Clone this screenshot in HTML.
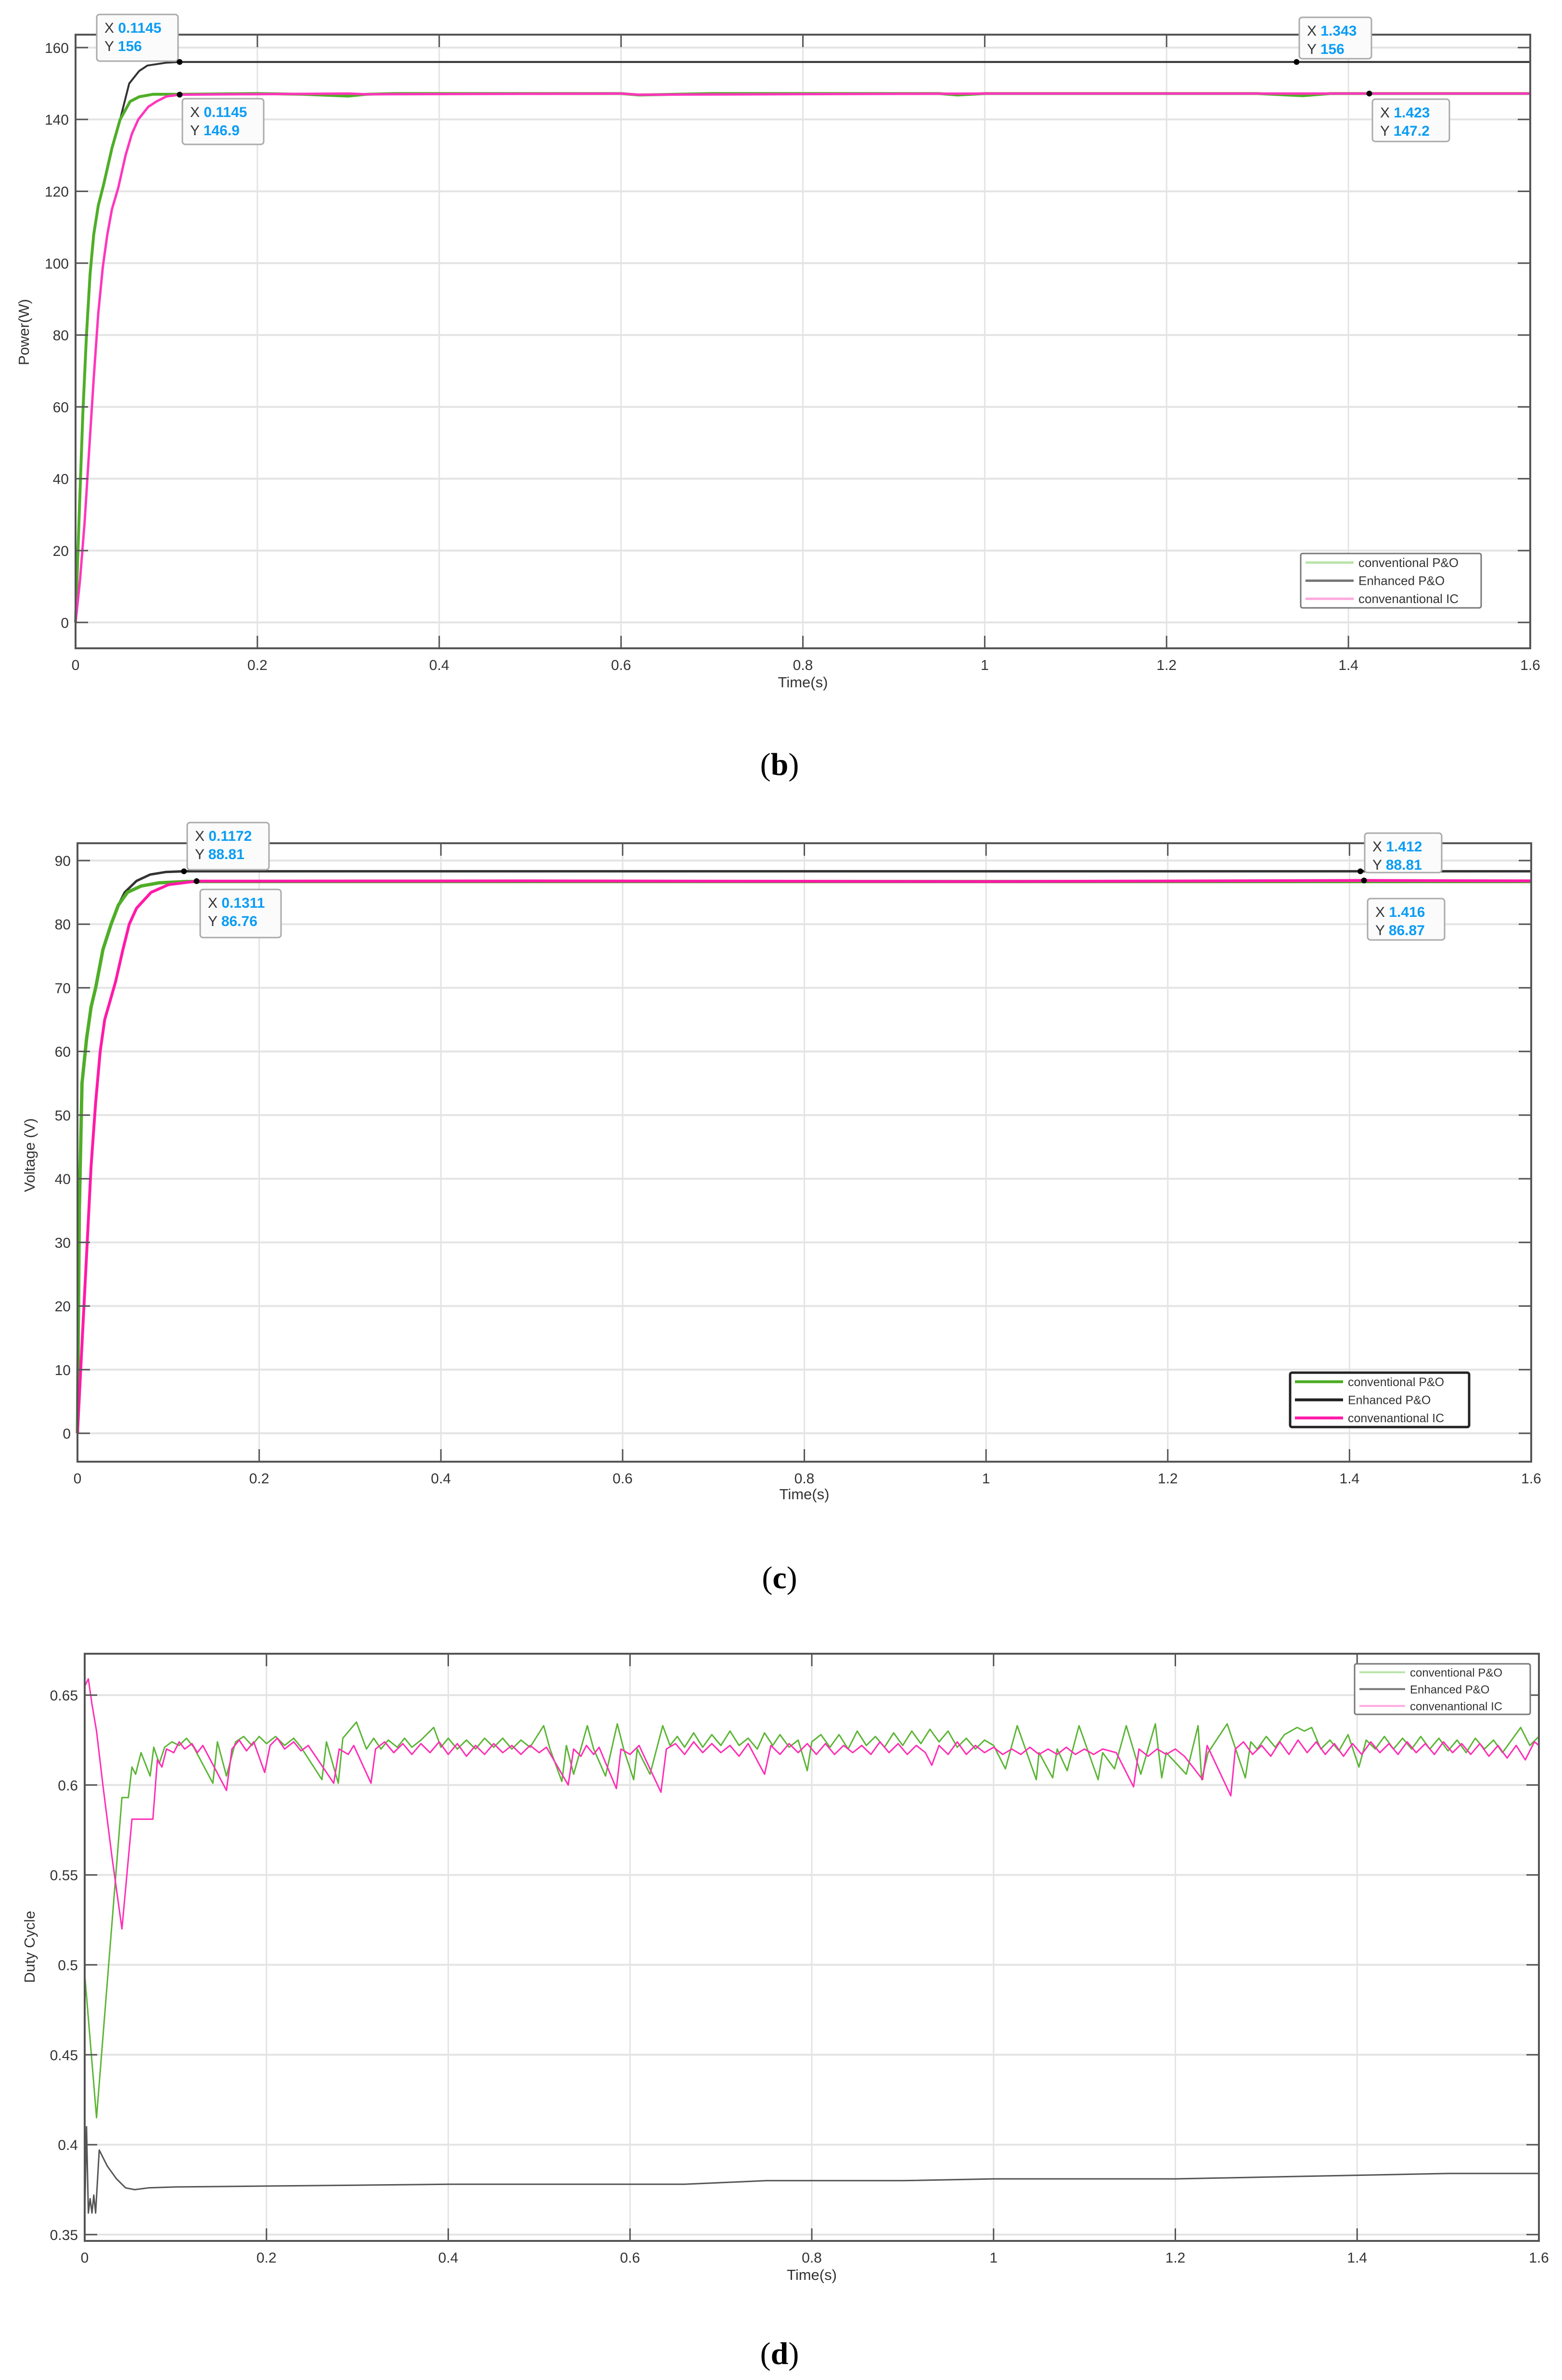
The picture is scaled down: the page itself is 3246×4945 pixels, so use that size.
<!DOCTYPE html>
<html><head><meta charset="utf-8"><title>Power, voltage and duty cycle</title>
<style>
html,body{margin:0;padding:0;background:#fff;}
svg{display:block;font-family:"Liberation Sans",sans-serif;}
</style></head>
<body>
<svg id="fig" xmlns="http://www.w3.org/2000/svg" width="3246" height="4945" viewBox="0 0 3246 4945">
<rect x="0" y="0" width="3246" height="4945" fill="#ffffff"/>
</svg>
<script>
// ---------- DATA ----------
const xTickVals = [0,0.2,0.4,0.6,0.8,1,1.2,1.4,1.6];
const xTickLabels = ["0","0.2","0.4","0.6","0.8","1","1.2","1.4","1.6"];
const seriesNames = ["conventional P&O","Enhanced P&O","convenantional IC"];

// (b) Power
const pwrTicks = [0,20,40,60,80,100,120,140,160];
const pwrGreenT = [0,0.004,0.008,0.012,0.016,0.02,0.025,0.031,0.04,0.049,0.06,0.07,0.085,0.1145,0.2,0.25,0.3,0.32,0.35,0.6,0.62,0.7,0.95,0.97,1.0,1.3,1.35,1.38,1.6];
const pwrGreenV = [0,30,58,80,97,108,116,122,132,140,145,146.3,147,147,147.2,147,146.5,147,147.2,147.2,146.8,147.2,147.2,146.8,147.2,147.2,146.6,147.2,147.2];
const pwrBlackT = [0,0.004,0.008,0.012,0.016,0.02,0.025,0.031,0.04,0.049,0.059,0.07,0.079,0.1,0.1145,1.343,1.6];
const pwrBlackV = [0,30,58,80,97,108,116,122,132,140,150,153.5,155,155.8,156,156,156];
const pwrPinkT = [0,0.005,0.01,0.015,0.02,0.025,0.03,0.035,0.04,0.047,0.055,0.062,0.069,0.08,0.089,0.1,0.1145,0.3,0.32,0.6,0.62,1.0,1.423,1.6];
const pwrPinkV = [0,12,28,48,68,86,99,108,115,121,130,136,140,143.5,145,146.4,146.9,147.2,147,147.2,146.9,147.2,147.2,147.2];

// (c) Voltage
const volTicks = [0,10,20,30,40,50,60,70,80,90];
const volGreenT = [0,0.002,0.005,0.01,0.015,0.02,0.028,0.037,0.045,0.055,0.07,0.09,0.12,0.5,1.6];
const volGreenV = [0,35,55,62,67,70,76,80,83,85,86,86.5,86.7,86.7,86.7];
const volBlackT = [0,0.002,0.005,0.01,0.015,0.02,0.028,0.037,0.045,0.052,0.065,0.08,0.097,0.1172,1.412,1.6];
const volBlackV = [0,35,55,62,67,70,76,80,83,85,86.8,87.8,88.2,88.31,88.31,88.31];
const volPinkT = [0,0.005,0.01,0.015,0.02,0.025,0.03,0.036,0.042,0.05,0.057,0.065,0.081,0.1,0.1311,0.5,1.0,1.416,1.6];
const volPinkV = [0,14,28,42,52,60,65,68,71,76,80,82.5,85,86.2,86.76,86.8,86.7,86.87,86.8];

// (d) Duty cycle
const dutyTicks = [0.35,0.4,0.45,0.5,0.55,0.6,0.65];
const dutyTickLabels = ["0.35","0.4","0.45","0.5","0.55","0.6","0.65"];
const dutyGreenT = [0,0.013,0.041,0.048,0.052,0.056,0.062,0.072,0.076,0.082,0.088,0.096,0.104,0.112,0.12,0.141,0.146,0.156,0.166,0.175,0.184,0.192,0.2,0.21,0.22,0.23,0.238,0.261,0.266,0.279,0.284,0.299,0.31,0.318,0.326,0.334,0.344,0.352,0.36,0.37,0.384,0.392,0.4,0.41,0.42,0.43,0.44,0.45,0.46,0.47,0.48,0.49,0.505,0.512,0.525,0.53,0.538,0.553,0.56,0.573,0.586,0.593,0.604,0.608,0.622,0.636,0.644,0.652,0.66,0.67,0.68,0.69,0.7,0.71,0.72,0.73,0.74,0.748,0.757,0.765,0.775,0.785,0.795,0.8,0.81,0.82,0.83,0.84,0.85,0.86,0.87,0.88,0.89,0.9,0.91,0.92,0.93,0.94,0.95,0.96,0.97,0.98,0.99,1.0,1.013,1.026,1.047,1.05,1.065,1.07,1.081,1.094,1.115,1.12,1.133,1.146,1.162,1.178,1.185,1.19,1.212,1.225,1.229,1.236,1.257,1.277,1.283,1.29,1.3,1.31,1.32,1.334,1.342,1.35,1.36,1.37,1.38,1.39,1.402,1.41,1.42,1.43,1.44,1.45,1.46,1.47,1.48,1.49,1.5,1.51,1.52,1.53,1.54,1.55,1.56,1.58,1.59,1.6];
const dutyGreenV = [0.495,0.415,0.593,0.593,0.61,0.606,0.618,0.605,0.621,0.612,0.621,0.624,0.622,0.626,0.621,0.601,0.624,0.605,0.624,0.627,0.622,0.627,0.623,0.627,0.622,0.626,0.621,0.603,0.624,0.601,0.626,0.635,0.62,0.626,0.62,0.625,0.621,0.626,0.621,0.625,0.632,0.621,0.626,0.62,0.625,0.62,0.626,0.621,0.626,0.62,0.625,0.621,0.633,0.62,0.602,0.622,0.606,0.633,0.62,0.605,0.634,0.62,0.603,0.62,0.606,0.633,0.622,0.627,0.621,0.629,0.621,0.628,0.622,0.63,0.622,0.626,0.62,0.629,0.622,0.628,0.621,0.625,0.608,0.624,0.628,0.621,0.628,0.62,0.63,0.622,0.627,0.621,0.629,0.622,0.63,0.623,0.631,0.624,0.63,0.621,0.626,0.62,0.625,0.622,0.609,0.633,0.603,0.618,0.604,0.62,0.608,0.633,0.603,0.618,0.609,0.633,0.606,0.634,0.604,0.618,0.606,0.633,0.603,0.618,0.634,0.604,0.624,0.62,0.627,0.621,0.628,0.632,0.63,0.632,0.62,0.625,0.619,0.628,0.61,0.625,0.62,0.627,0.62,0.626,0.62,0.627,0.62,0.626,0.619,0.625,0.618,0.626,0.62,0.625,0.618,0.632,0.622,0.627];
const dutyPinkT = [0,0.004,0.008,0.013,0.02,0.03,0.041,0.052,0.075,0.08,0.085,0.09,0.098,0.104,0.11,0.118,0.124,0.13,0.156,0.162,0.17,0.178,0.186,0.198,0.204,0.212,0.22,0.23,0.238,0.246,0.274,0.28,0.29,0.296,0.315,0.32,0.33,0.34,0.35,0.36,0.37,0.38,0.39,0.4,0.41,0.42,0.43,0.44,0.45,0.46,0.47,0.48,0.49,0.5,0.508,0.532,0.538,0.546,0.552,0.56,0.566,0.585,0.59,0.6,0.61,0.634,0.64,0.65,0.66,0.67,0.68,0.69,0.7,0.71,0.72,0.73,0.748,0.755,0.765,0.775,0.785,0.795,0.805,0.815,0.825,0.835,0.845,0.855,0.865,0.875,0.885,0.895,0.905,0.915,0.925,0.932,0.94,0.95,0.96,0.97,0.98,0.99,1.0,1.01,1.02,1.03,1.04,1.05,1.06,1.07,1.08,1.09,1.1,1.11,1.12,1.135,1.154,1.16,1.17,1.18,1.19,1.2,1.21,1.23,1.235,1.261,1.266,1.275,1.285,1.295,1.305,1.315,1.325,1.335,1.345,1.355,1.365,1.375,1.385,1.395,1.405,1.415,1.425,1.435,1.445,1.455,1.465,1.475,1.485,1.495,1.505,1.515,1.525,1.535,1.545,1.555,1.565,1.575,1.585,1.595,1.6];
const dutyPinkV = [0.655,0.659,0.645,0.63,0.6,0.56,0.52,0.581,0.581,0.614,0.61,0.62,0.618,0.624,0.62,0.623,0.618,0.622,0.597,0.62,0.625,0.619,0.624,0.607,0.622,0.626,0.62,0.624,0.619,0.622,0.601,0.62,0.617,0.622,0.601,0.62,0.624,0.618,0.623,0.617,0.623,0.618,0.624,0.617,0.623,0.616,0.622,0.617,0.623,0.618,0.622,0.617,0.622,0.618,0.621,0.6,0.62,0.616,0.622,0.617,0.621,0.598,0.62,0.617,0.622,0.596,0.62,0.623,0.617,0.624,0.618,0.623,0.618,0.622,0.616,0.623,0.606,0.622,0.617,0.623,0.618,0.623,0.617,0.623,0.617,0.622,0.618,0.622,0.617,0.624,0.618,0.623,0.617,0.622,0.618,0.611,0.622,0.617,0.624,0.617,0.622,0.618,0.621,0.617,0.62,0.617,0.621,0.617,0.62,0.617,0.621,0.617,0.62,0.617,0.62,0.618,0.599,0.62,0.616,0.62,0.617,0.62,0.616,0.603,0.622,0.594,0.62,0.624,0.617,0.622,0.616,0.624,0.617,0.625,0.618,0.624,0.617,0.623,0.616,0.623,0.617,0.624,0.618,0.623,0.617,0.624,0.618,0.623,0.617,0.624,0.618,0.623,0.617,0.623,0.616,0.622,0.615,0.622,0.614,0.624,0.622];
const dutyBlackT = [0,0.002,0.004,0.006,0.008,0.01,0.012,0.016,0.025,0.035,0.045,0.055,0.07,0.1,0.2,0.3,0.4,0.55,0.66,0.75,0.9,1.0,1.2,1.3,1.4,1.5,1.6];
const dutyBlackV = [0.36,0.41,0.362,0.37,0.362,0.372,0.362,0.397,0.388,0.381,0.376,0.375,0.376,0.3765,0.377,0.3775,0.378,0.378,0.378,0.38,0.38,0.381,0.381,0.382,0.383,0.384,0.384];

// ---------- DRAWING ----------
const NS = "http://www.w3.org/2000/svg";
const svg = document.getElementById("fig");
function mk(tag, attrs, parent) {
  const e = document.createElementNS(NS, tag);
  for (const k in attrs) e.setAttribute(k, attrs[k]);
  (parent || svg).appendChild(e);
  return e;
}
function txt(str, attrs, parent) {
  const e = mk("text", attrs, parent);
  e.textContent = str;
  return e;
}

function makeChart(cfg) {
  const g = mk("g", {});
  
  
  const sx = v => cfg.x0 + (v - 0) / 1.6 * (cfg.x1 - cfg.x0);
  const sy = v => cfg.bottom - (v - cfg.ymin) / (cfg.ymax - cfg.ymin) * (cfg.bottom - cfg.top);
  xTickVals.forEach((v, i) => {
    const l = mk("line", {x1: sx(v), x2: sx(v), y1: cfg.top, y2: cfg.bottom, stroke: "#e4e4e4", "stroke-width": 3}, g);
    
    
  });
  cfg.yTicks.forEach(v => {
    const l = mk("line", {x1: cfg.x0, x2: cfg.x1, y1: sy(v), y2: sy(v), stroke: "#e4e4e4", "stroke-width": 4}, g);
    
    
  });
  cfg.series.forEach(s => {
    let d = "";
    s.t.forEach((t, i) => { d += (i ? "L" : "M") + sx(t).toFixed(1) + " " + sy(s.v[i]).toFixed(1); });
    const p = mk("path", {d: d, fill: "none", stroke: s.color, "stroke-width": s.w, "stroke-linejoin": "round"}, g);
    
    
  });
  const box = mk("rect", {x: cfg.x0, y: cfg.top, width: cfg.x1 - cfg.x0, height: cfg.bottom - cfg.top, fill: "none", stroke: "#555", "stroke-width": 4}, g);
  
  
  xTickVals.forEach((v, i) => {
    mk("line", {x1: sx(v), x2: sx(v), y1: cfg.bottom, y2: cfg.bottom - 26, stroke: "#555", "stroke-width": 3}, g);
    mk("line", {x1: sx(v), x2: sx(v), y1: cfg.top, y2: cfg.top + 26, stroke: "#555", "stroke-width": 3}, g);
    const t = txt(xTickLabels[i], {x: sx(v), y: cfg.bottom + 45, "font-size": 30, fill: "#333", "text-anchor": "middle"}, g);
    
    
  });
  cfg.yTicks.forEach((v, i) => {
    mk("line", {x1: cfg.x0, x2: cfg.x0 + 26, y1: sy(v), y2: sy(v), stroke: "#555", "stroke-width": 3}, g);
    mk("line", {x1: cfg.x1, x2: cfg.x1 - 26, y1: sy(v), y2: sy(v), stroke: "#555", "stroke-width": 3}, g);
    const t = txt(cfg.yLabels[i], {x: cfg.x0 - 14, y: sy(v) + 11, "font-size": 30, fill: "#333", "text-anchor": "end"}, g);
    
    
  });
  const xt = txt("Time(s)", {x: (cfg.x0 + cfg.x1) / 2, y: cfg.xTitleY, "font-size": 31, fill: "#333", "text-anchor": "middle"}, g);
  
  
  const yt = txt(cfg.yTitle, {x: 0, y: 0, "font-size": 31, fill: "#333", "text-anchor": "middle", transform: "translate(" + cfg.yTitleX + "," + cfg.yTitleY + ") rotate(-90)"}, g);
  
  
  const L = cfg.legend;
  const lg = mk("g", {}, g);
  
  
  mk("rect", {x: L.x, y: L.y, width: L.w, height: L.h, rx: 4, fill: "#fff", stroke: L.border, "stroke-width": L.bw}, lg);
  seriesNames.forEach((n, i) => {
    const ry = L.y + L.h * (i + 0.5) / 3;
    const sw = mk("line", {x1: L.x + 10, x2: L.x + 10 + L.sw, y1: ry, y2: ry, stroke: L.colors[i], "stroke-width": L.lw}, lg);
    
    
    const t = txt(n, {x: L.x + 20 + L.sw, y: ry + 9, "font-size": L.fs, fill: "#333"}, lg);
    
    
  });
  (cfg.tips || []).forEach(tp => {
    const tg = mk("g", {}, g);
    
    
    const px = sx(tp.x), py = sy(tp.y);
    mk("rect", {x: tp.bx, y: tp.by, width: tp.bw, height: tp.bh, rx: 6, fill: "#fbfbfb", stroke: "#aaa", "stroke-width": 3}, tg);
    const l1 = txt("X ", {x: tp.bx + 16, y: tp.by + 38, "font-size": 30, fill: "#333"}, tg);
    const s1 = mk("tspan", {fill: "#0a9cf5", "font-weight": "bold"}, l1); s1.textContent = tp.xs;
    const l2 = txt("Y ", {x: tp.bx + 16, y: tp.by + 76, "font-size": 30, fill: "#333"}, tg);
    const s2 = mk("tspan", {fill: "#0a9cf5", "font-weight": "bold"}, l2); s2.textContent = tp.ys;
    const dot = mk("circle", {cx: px, cy: py, r: 6, fill: "#000"}, tg);
    
    
  });
  const pl = mk("text", {x: 1620, y: cfg.panelY, "font-size": 66, "font-family": "Liberation Serif, serif", fill: "#000", "text-anchor": "middle"}, svg);
  const a = mk("tspan", {}, pl); a.textContent = "(";
  const b = mk("tspan", {"font-weight": "bold"}, pl); b.textContent = cfg.panel;
  const c = mk("tspan", {}, pl); c.textContent = ")";
  
  
}

const G = "#4fae27", K = "#333333", P = "#ff36bd";

makeChart({
  name: "power-chart", x0: 157, x1: 3180, top: 72, bottom: 1347, ymin: -7.2, ymax: 163.6,
  yTicks: pwrTicks, yLabels: pwrTicks.map(String), yTitle: "Power(W)", yTitleX: 60, yTitleY: 690,
  xTitleY: 1428, panel: "b", panelY: 1610,
  series: [
    {name: "power-enhanced-po-line", t: pwrBlackT, v: pwrBlackV, color: K, w: 4},
    {name: "power-conventional-po-line", t: pwrGreenT, v: pwrGreenV, color: G, w: 6},
    {name: "power-conventional-ic-line", t: pwrPinkT, v: pwrPinkV, color: P, w: 5}
  ],
  legend: {x: 2703, y: 1150, w: 375, h: 113, sw: 100, lw: 5, fs: 26, bw: 3, border: "#777", colors: ["#b9e3a8", "#777", "#ffa8de"]},
  tips: [
    {x: 0.1145, y: 156, xs: "0.1145", ys: "156", bx: 201, by: 30, bw: 169, bh: 97},
    {x: 0.1145, y: 146.9, xs: "0.1145", ys: "146.9", bx: 379, by: 205, bw: 169, bh: 95},
    {x: 1.343, y: 156, xs: "1.343", ys: "156", bx: 2700, by: 36, bw: 150, bh: 86},
    {x: 1.423, y: 147.2, xs: "1.423", ys: "147.2", bx: 2852, by: 206, bw: 160, bh: 88}
  ]
});

makeChart({
  name: "voltage-chart", x0: 161, x1: 3182, top: 1752, bottom: 3037, ymin: -4.46, ymax: 92.72,
  yTicks: volTicks, yLabels: volTicks.map(String), yTitle: "Voltage (V)", yTitleX: 72, yTitleY: 2400,
  xTitleY: 3115, panel: "c", panelY: 3300,
  series: [
    {name: "voltage-enhanced-po-line", t: volBlackT, v: volBlackV, color: K, w: 5},
    {name: "voltage-conventional-po-line", t: volGreenT, v: volGreenV, color: G, w: 7},
    {name: "voltage-conventional-ic-line", t: volPinkT, v: volPinkV, color: "#ff1aa8", w: 6}
  ],
  legend: {x: 2681, y: 2852, w: 372, h: 113, sw: 100, lw: 6, fs: 25, bw: 5, border: "#222", colors: ["#4fae27", "#222", "#ff1aa8"]},
  tips: [
    {x: 0.1172, y: 88.31, xs: "0.1172", ys: "88.81", bx: 389, by: 1709, bw: 170, bh: 98},
    {x: 0.1311, y: 86.76, xs: "0.1311", ys: "86.76", bx: 416, by: 1848, bw: 168, bh: 100},
    {x: 1.412, y: 88.31, xs: "1.412", ys: "88.81", bx: 2836, by: 1731, bw: 160, bh: 82},
    {x: 1.416, y: 86.87, xs: "1.416", ys: "86.87", bx: 2842, by: 1867, bw: 160, bh: 86}
  ]
});

makeChart({
  name: "duty-cycle-chart", x0: 176, x1: 3198, top: 3436, bottom: 4656, ymin: 0.3465, ymax: 0.673,
  yTicks: dutyTicks, yLabels: dutyTickLabels, yTitle: "Duty Cycle", yTitleX: 72, yTitleY: 4045,
  xTitleY: 4737, panel: "d", panelY: 4912,
  series: [
    {name: "duty-enhanced-po-line", t: dutyBlackT, v: dutyBlackV, color: "#555", w: 3},
    {name: "duty-conventional-po-line", t: dutyGreenT, v: dutyGreenV, color: "#5cb536", w: 3},
    {name: "duty-conventional-ic-line", t: dutyPinkT, v: dutyPinkV, color: "#ff2db6", w: 3}
  ],
  legend: {x: 2815, y: 3457, w: 365, h: 105, sw: 95, lw: 4, fs: 24, bw: 3, border: "#777", colors: ["#b9e3a8", "#777", "#ffa8de"]},
  tips: []
});
</script>
</body></html>
